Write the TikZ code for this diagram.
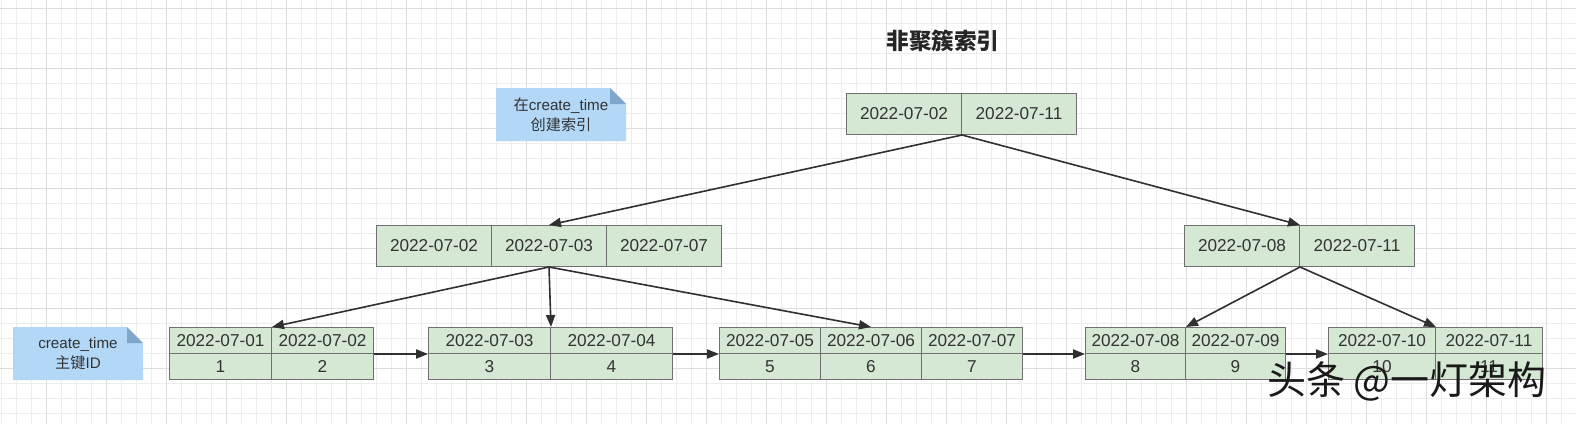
\documentclass[tikz,border=0pt]{standalone}
\usepackage{fontspec}
\setmainfont{Liberation Sans}
\newfontfamily\cjk{Noto Sans CJK SC}
\usetikzlibrary{arrows.meta,calc}
\definecolor{cellfill}{HTML}{D5E8D4}
\definecolor{cellline}{HTML}{707070}
\definecolor{txt}{HTML}{333333}
\definecolor{arrowc}{HTML}{303030}
\definecolor{notefill}{HTML}{B3D7F7}
\definecolor{notefold}{HTML}{7FA7CC}
\definecolor{minorgrid}{HTML}{EDEDED}
\definecolor{majorgrid}{HTML}{DDDDDD}
\newcommand{\datefont}{\fontsize{8.6pt}{10pt}\selectfont}
\tikzset{
  cell/.style={draw=cellline, fill=cellfill, line width=0.5pt, inner sep=0pt,
    minimum height=20.5pt, font=\datefont, text=txt, anchor=north west},
  leafcell/.style={cell, minimum height=13pt},
  link/.style={draw=arrowc, line width=0.8pt, -{Triangle[length=6pt,width=4.6pt]}},
  gridminor/.style={draw=minorgrid, line width=0.5pt},
  gridmajor/.style={draw=majorgrid, line width=0.5pt},
  notebox/.style={minimum width=65pt, minimum height=26.5pt, inner sep=0pt,
    align=center, text=txt, font=\fontsize{7.6pt}{10pt}\selectfont,
    path picture={
      \fill[notefill] (path picture bounding box.north west)
        -- ([xshift=-8pt]path picture bounding box.north east)
        -- ([yshift=-8pt]path picture bounding box.north east)
        -- (path picture bounding box.south east)
        -- (path picture bounding box.south west) -- cycle;
      \fill[notefold] ([xshift=-8pt]path picture bounding box.north east)
        -- ([xshift=-8pt,yshift=-8pt]path picture bounding box.north east)
        -- ([yshift=-8pt]path picture bounding box.north east) -- cycle;
    }},
}
\begin{document}
\begin{tikzpicture}[x=0.5pt,y=-0.5pt]
\useasboundingbox (0,0) rectangle (1576,424);
\fill[white] (0,0) rectangle (1576,424);
% grid
\foreach \i in {0,...,105} \draw[gridminor] ({1.7+15*\i},0) -- ({1.7+15*\i},424);
\foreach \i in {0,...,27} \draw[gridminor] (0,{8.3+15*\i}) -- (1576,{8.3+15*\i});
\foreach \i in {0,...,25} \draw[gridmajor] ({46.7+60*\i},0) -- ({46.7+60*\i},424);
\foreach \i in {0,...,6} \draw[gridmajor] (0,{8.3+60*\i}) -- (1576,{8.3+60*\i});

% title
\node[font={\cjk\bfseries\fontsize{11.3pt}{13pt}\selectfont}, text=black!85] (title) at (943,41) {非聚簇索引};

% notes
\node[notebox] (note1) at (561,114.5) {{\cjk 在}create\_time\\{\cjk 创建索引}};
\node[notebox] (note2) at (78,353.5) {create\_time\\{\cjk 主键}ID};

% root
\node[cell, minimum width=57.5pt] (r1) at (846,93) {2022-07-02};
\node[cell, minimum width=57.5pt] (r2) at (961,93) {2022-07-11};

% level 2 left
\node[cell, minimum width=57.5pt] (m1) at (376,225) {2022-07-02};
\node[cell, minimum width=57.5pt] (m2) at (491,225) {2022-07-03};
\node[cell, minimum width=57.5pt] (m3) at (606,225) {2022-07-07};

% level 2 right
\node[cell, minimum width=57.5pt] (n1) at (1184,225) {2022-07-08};
\node[cell, minimum width=57.5pt] (n2) at (1299,225) {2022-07-11};

% leaf 1
\node[leafcell, minimum width=51pt] (a1t) at (169,327) {2022-07-01};
\node[leafcell, minimum width=51pt] (a2t) at (271,327) {2022-07-02};
\node[leafcell, minimum width=51pt] (a1b) at (169,353) {1};
\node[leafcell, minimum width=51pt] (a2b) at (271,353) {2};
% leaf 2
\node[leafcell, minimum width=61pt] (b1t) at (428,327) {2022-07-03};
\node[leafcell, minimum width=61pt] (b2t) at (550,327) {2022-07-04};
\node[leafcell, minimum width=61pt] (b1b) at (428,353) {3};
\node[leafcell, minimum width=61pt] (b2b) at (550,353) {4};
% leaf 3
\node[leafcell, minimum width=50.5pt] (c1t) at (719,327) {2022-07-05};
\node[leafcell, minimum width=50.5pt] (c2t) at (820,327) {2022-07-06};
\node[leafcell, minimum width=50.5pt] (c3t) at (921,327) {2022-07-07};
\node[leafcell, minimum width=50.5pt] (c1b) at (719,353) {5};
\node[leafcell, minimum width=50.5pt] (c2b) at (820,353) {6};
\node[leafcell, minimum width=50.5pt] (c3b) at (921,353) {7};
% leaf 4
\node[leafcell, minimum width=50pt] (d1t) at (1085,327) {2022-07-08};
\node[leafcell, minimum width=50pt] (d2t) at (1185,327) {2022-07-09};
\node[leafcell, minimum width=50pt] (d1b) at (1085,353) {8};
\node[leafcell, minimum width=50pt] (d2b) at (1185,353) {9};
% leaf 5
\node[leafcell, minimum width=53.5pt] (e1t) at (1328,327) {2022-07-10};
\node[leafcell, minimum width=53.5pt] (e2t) at (1435,327) {2022-07-11};
\node[leafcell, minimum width=53.5pt] (e1b) at (1328,353) {10};
\node[leafcell, minimum width=53.5pt] (e2b) at (1435,353) {11};

% tree links
\draw[link] (r1.south east) -- (m2.north);
\draw[link] (r1.south east) -- (n1.north east);
\draw[link] (m2.south) -- (a1t.north east);
\draw[link] (m2.south) -- (b1t.north east);
\draw[link] (m2.south) -- (c2t.north);
\draw[link] (n1.south east) -- (d1t.north east);
\draw[link] (n1.south east) -- (e1t.north east);

% leaf chain
\draw[link] (a2t.south east) -- (b1t.south west);
\draw[link] (b2t.south east) -- (c1t.south west);
\draw[link] (c3t.south east) -- (d1t.south west);
\draw[link] (d2t.south east) -- (e1t.south west);

% watermark
\node[font={\cjk\fontsize{19.5pt}{22pt}\selectfont}, text=black!90] (mark) at (1407,381) {头条 @一灯架构};
\end{tikzpicture}
\end{document}
